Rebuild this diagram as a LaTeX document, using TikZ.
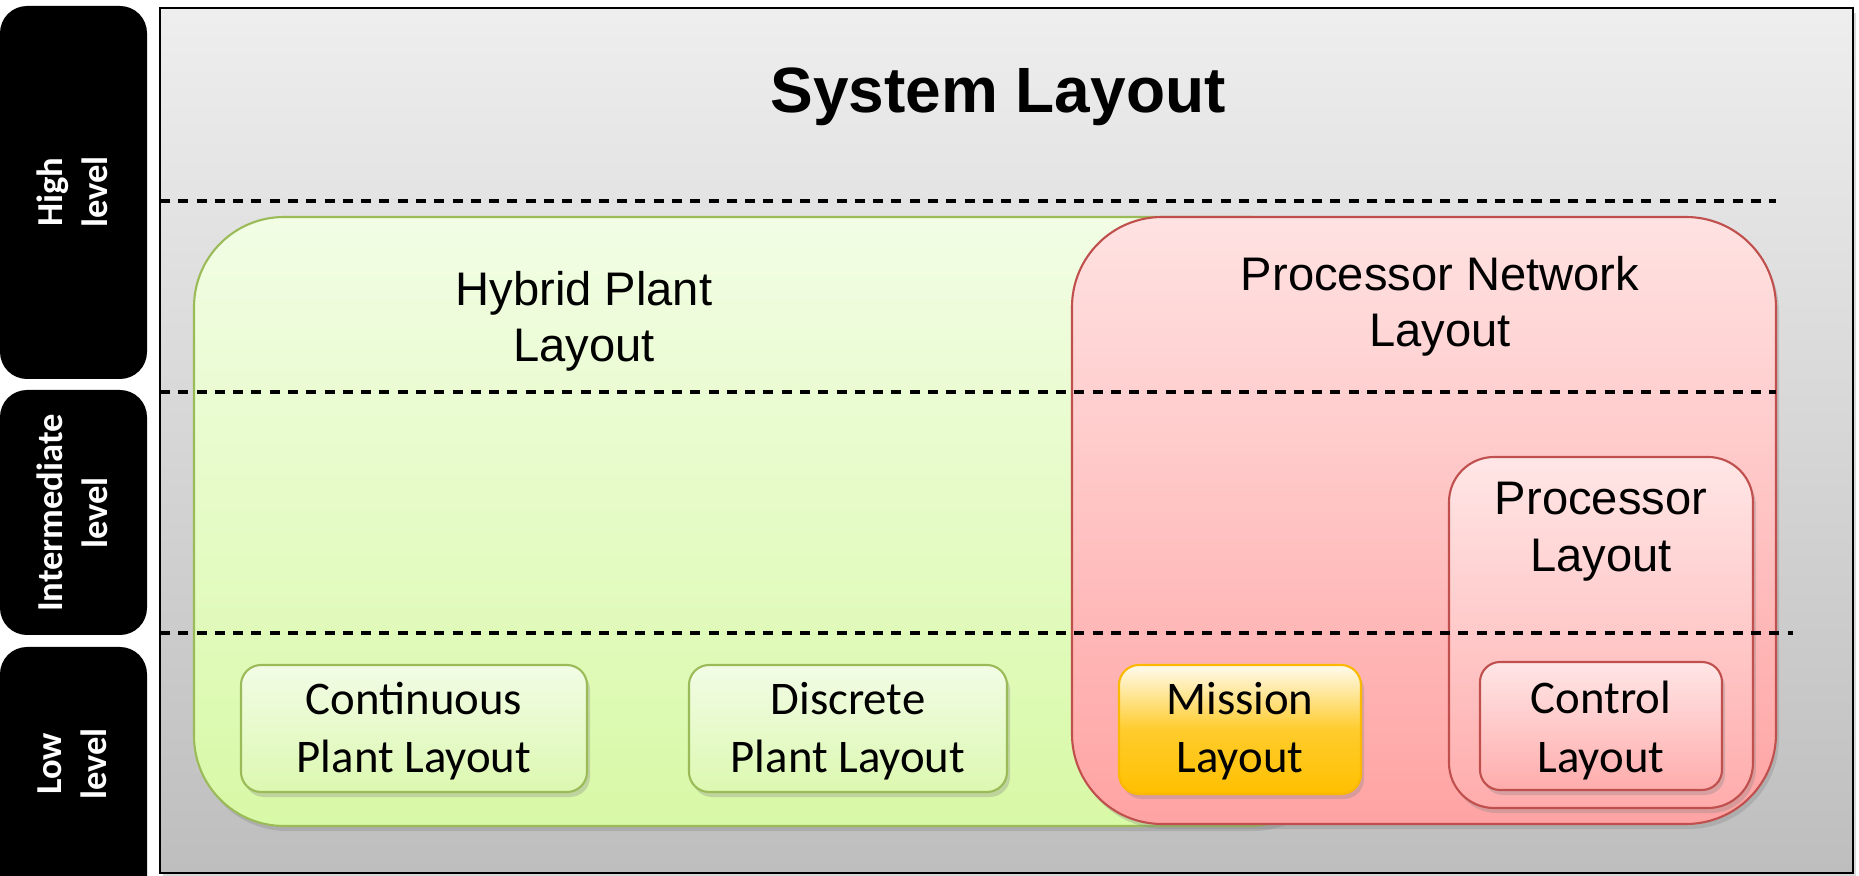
\documentclass[tikz,border=0pt]{standalone}
\usepackage{fontspec}
\setmainfont{Liberation Sans}
\newfontfamily\carlito{Carlito}
\usepackage{tikz}
\usetikzlibrary{shadows}
\definecolor{sysgraytop}{RGB}{238,238,238}
\definecolor{sysgraybot}{RGB}{190,190,190}
\definecolor{plantgreen}{RGB}{155,187,89}
\definecolor{planttop}{RGB}{242,253,229}
\definecolor{plantbot}{RGB}{216,249,166}
\definecolor{leaftop}{RGB}{242,252,230}
\definecolor{leafbot}{RGB}{220,248,176}
\definecolor{netred}{RGB}{192,80,77}
\definecolor{nettop}{RGB}{255,226,226}
\definecolor{netbot}{RGB}{255,163,163}
\definecolor{proctop}{RGB}{255,230,230}
\definecolor{procbot}{RGB}{255,172,172}
\definecolor{missionline}{RGB}{250,185,0}
\definecolor{missiontop}{RGB}{255,251,238}
\definecolor{missionmid}{RGB}{255,204,45}
\definecolor{missionbot}{RGB}{255,192,0}

\begin{document}
\begin{tikzpicture}[x=0.01cm,y=-0.01cm,
  lvlbox/.style={fill=black,rounded corners=2.7mm},
  lvltext/.style={text=white,rotate=90,align=center,inner sep=0pt,font=\carlito\bfseries\fontsize{10.4}{12.8}\selectfont},
  levelline/.style={dash pattern=on 2.85pt off 2.35pt,line width=1pt},
  softshadow/.style={drop shadow={opacity=0.3,shadow xshift=0.3mm,shadow yshift=-0.5mm}},
  bigtext/.style={align=center,inner sep=0pt,anchor=base,font=\fontsize{13.4}{16.2}\selectfont},
  smalltext/.style={align=center,inner sep=0pt,anchor=base,font=\carlito\fontsize{13.3}{16.5}\selectfont},
  leafbox/.style={draw=plantgreen,line width=0.6pt,top color=leaftop,bottom color=leafbot,rounded corners=2mm,softshadow},
  redbox/.style={draw=netred,line width=0.6pt,top color=proctop,bottom color=procbot,softshadow}]
\useasboundingbox (0,0) rectangle (1859,876);
\clip (0,0) rectangle (1859,876);

% level tabs on the left
\fill[lvlbox] (0,6) rectangle (147,379);
\fill[lvlbox] (0,390) rectangle (147,635);
\fill[lvlbox] (0,647) rectangle (147,920);
\node[lvltext] (high) at (72,192) {High\\level};
\node[lvltext] (inter) at (72,513) {Intermediate\\level};
\node[lvltext] (low) at (72,764) {Low\\level};

% system frame
\path[draw=black,line width=0.7pt,top color=sysgraytop,bottom color=sysgraybot,softshadow] (160,8) rectangle (1853,873);
\node[anchor=base,inner sep=0pt,font=\bfseries\fontsize{18.2}{22}\selectfont] (title) at (998,113) {System Layout};

% plant and network regions
\path[draw=plantgreen,line width=0.6pt,top color=planttop,bottom color=plantbot,rounded corners=9mm,softshadow] (194,217) rectangle (1340,826);
\path[draw=netred,line width=0.6pt,top color=nettop,bottom color=netbot,rounded corners=9mm,softshadow] (1072,217) rectangle (1776,824);
\path[redbox,rounded corners=4.5mm] (1449,457) rectangle (1753,808);

% level separators
\draw[levelline] (160,201) -- (1776,201);
\draw[levelline] (160,392) -- (1776,392);
\draw[levelline] (160,633) -- (1793,633);

% low level layouts
\path[leafbox] (241,665) rectangle (587,792);
\path[leafbox] (689,665) rectangle (1007,792);
\path[draw=missionline,line width=0.6pt,top color=missiontop,bottom color=missionbot,middle color=missionmid,rounded corners=2mm,softshadow] (1119,665) rectangle (1361,794);
\path[redbox,rounded corners=2mm] (1480,662) rectangle (1722,790);

% texts (base = last line)
\node[bigtext] (hybrid) at (584,362) {Hybrid Plant\\Layout};
\node[bigtext] (network) at (1440,347) {Processor Network\\Layout};
\node[bigtext] (proc) at (1601,571) {Processor\\Layout};
\node[smalltext] (cont) at (414,773) {Continuous\\Plant Layout};
\node[smalltext] (disc) at (848,773) {Discrete\\Plant Layout};
\node[smalltext] (mission) at (1240,773) {Mission\\Layout};
\node[smalltext] (control) at (1601,772) {Control\\Layout};
\end{tikzpicture}
\end{document}
